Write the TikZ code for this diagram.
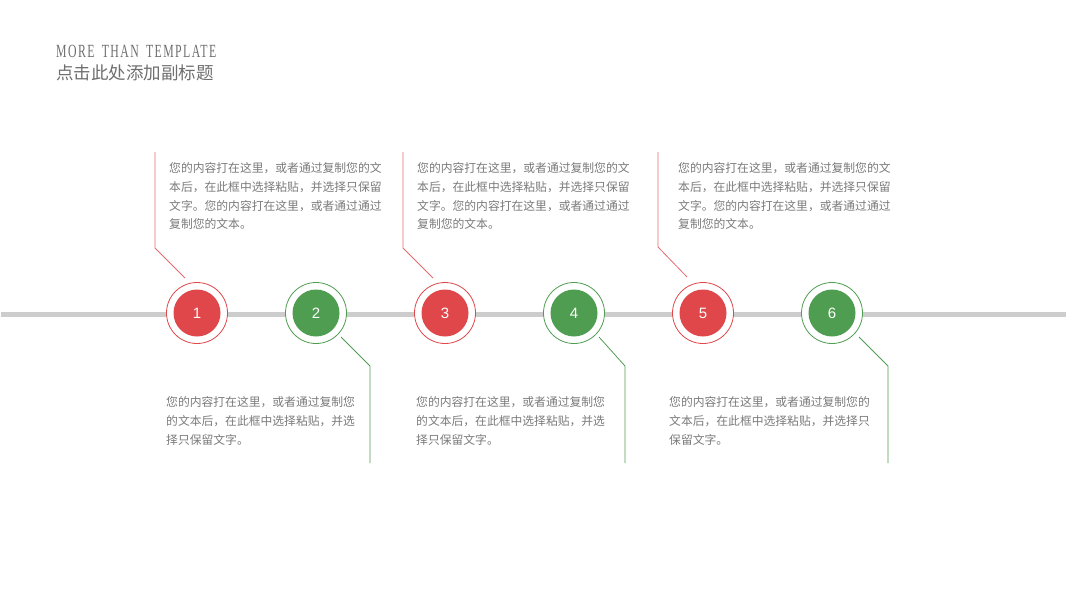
\documentclass[tikz,border=0pt]{standalone}
\usepackage{fontspec}
\newfontfamily\cjk{Noto Sans CJK SC}
\newfontfamily\serifL[LetterSpace=12]{Liberation Serif}
\newfontfamily\numfont{Liberation Sans}
\definecolor{myred}{HTML}{E0474B}
\definecolor{mygreen}{HTML}{4F9D50}
\definecolor{linegray}{HTML}{CDCDCD}
\definecolor{txtgray}{HTML}{7A7A7A}
\definecolor{titlegray}{HTML}{6E6E6E}
\tikzset{
  ring/.style={circle, draw=#1, line width=0.8pt, fill=white, minimum size=61pt, inner sep=0pt},
  dot/.style={circle, fill=#1, minimum size=47pt, inner sep=0pt, text=white, font=\numfont\fontsize{15pt}{15pt}\selectfont},
  conn/.style={draw=#1, line width=0.8pt},
  body/.style={inner sep=0pt, anchor=west, align=left, text=txtgray, font=\cjk\fontsize{11.8pt}{18.7pt}\selectfont},
}
\begin{document}
\begin{tikzpicture}[x=1pt, y=-1pt]
\useasboundingbox (0,0) rectangle (1067,600);
% title
\node[inner sep=0pt, anchor=base west, text=titlegray] (title) at (56,57.3) {\resizebox{160pt}{12.3pt}{\serifL MORE\hspace{0.25em} THAN\hspace{0.25em} TEMPLATE}};
\node[inner sep=0pt, anchor=west, text=titlegray, font=\cjk\fontsize{17.5pt}{17.5pt}\selectfont] (subtitle) at (56,72.5) {点击此处添加副标题};
% timeline
\coordinate (tl) at (1,314);
\coordinate (tr) at (1066,314);
\draw[linegray, line width=5pt] (tl) -- (tr);
% connector coordinates
\coordinate (a1) at (155,152); \coordinate (b1) at (155,248); \coordinate (c1) at (185,278);
\coordinate (a3) at (403,152); \coordinate (b3) at (403,248); \coordinate (c3) at (433,278);
\coordinate (a5) at (658,152); \coordinate (b5) at (658,247); \coordinate (c5) at (687,277);
\coordinate (c2) at (341,337); \coordinate (b2) at (370,366); \coordinate (a2) at (370,463);
\coordinate (c4) at (599,337); \coordinate (b4) at (625,366); \coordinate (a4) at (625,463);
\coordinate (c6) at (859,337); \coordinate (b6) at (888,366); \coordinate (a6) at (888,463);
\draw[conn=myred!80] (a1) -- (b1) -- (c1);
\draw[conn=myred!80] (a3) -- (b3) -- (c3);
\draw[conn=myred!80] (a5) -- (b5) -- (c5);
\draw[conn=mygreen] (c2) -- (b2) -- (a2);
\draw[conn=mygreen] (c4) -- (b4) -- (a4);
\draw[conn=mygreen] (c6) -- (b6) -- (a6);
% circles
\node[ring=myred] (r1) at (197,313) {};
\node[dot=myred] (n1) at (r1) {1};
\node[ring=mygreen] (r2) at (316,313) {};
\node[dot=mygreen] (n2) at (r2) {2};
\node[ring=myred] (r3) at (445,313) {};
\node[dot=myred] (n3) at (r3) {3};
\node[ring=mygreen] (r4) at (574,313) {};
\node[dot=mygreen] (n4) at (r4) {4};
\node[ring=myred] (r5) at (703,313) {};
\node[dot=myred] (n5) at (r5) {5};
\node[ring=mygreen] (r6) at (832,313) {};
\node[dot=mygreen] (n6) at (r6) {6};
% texts top
\node[body] (t1) at (169,196.2) {您的内容打在这里，或者通过复制您的文\\本后，在此框中选择粘贴，并选择只保留\\文字。您的内容打在这里，或者通过通过\\复制您的文本。};
\node[body] (t3) at (417,196.2) {您的内容打在这里，或者通过复制您的文\\本后，在此框中选择粘贴，并选择只保留\\文字。您的内容打在这里，或者通过通过\\复制您的文本。};
\node[body] (t5) at (678,196.2) {您的内容打在这里，或者通过复制您的文\\本后，在此框中选择粘贴，并选择只保留\\文字。您的内容打在这里，或者通过通过\\复制您的文本。};
% texts bottom
\node[body] (t2) at (166,421) {您的内容打在这里，或者通过复制您\\的文本后，在此框中选择粘贴，并选\\择只保留文字。};
\node[body] (t4) at (416,421) {您的内容打在这里，或者通过复制您\\的文本后，在此框中选择粘贴，并选\\择只保留文字。};
\node[body] (t6) at (669,421) {您的内容打在这里，或者通过复制您的\\文本后，在此框中选择粘贴，并选择只\\保留文字。};
\end{tikzpicture}
\end{document}
